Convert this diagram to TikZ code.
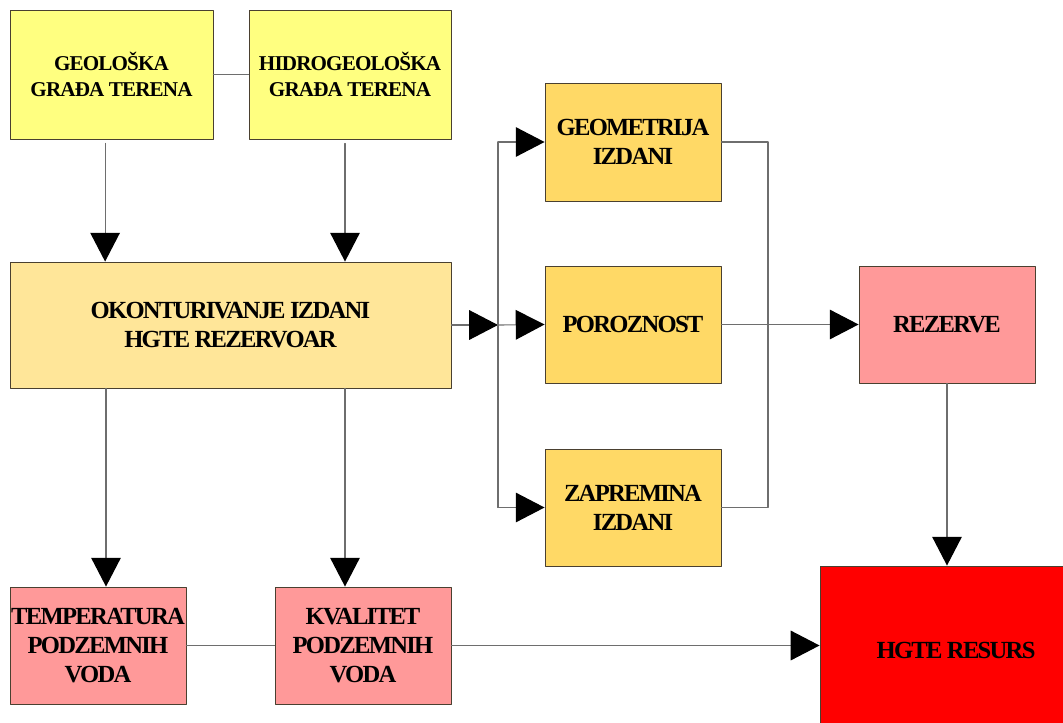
\documentclass[tikz,border=0pt]{standalone}
\usepackage{fontspec}
\setmainfont{Liberation Serif}[LetterSpace=-4]
\usetikzlibrary{arrows.meta}
\definecolor{geoyellow}{HTML}{FFFF80}
\definecolor{okontfill}{HTML}{FFE699}
\definecolor{izdfill}{HTML}{FFD966}
\definecolor{vodafill}{HTML}{FF9999}
\definecolor{linegray}{HTML}{6E6E6E}
\definecolor{boxedge}{HTML}{4A4030}
\begin{document}
\begin{tikzpicture}[x=0.025cm,y=-0.025cm,line cap=round,line join=round,
  box/.style={draw=boxedge,line width=0.6pt,inner sep=0pt,align=center,
    font=\fontsize{17.5}{20.5}\selectfont\bfseries\addfontfeature{LetterSpace=-7}},
  topbox/.style={box,fill=geoyellow,minimum height=3.225cm,
    font=\fontsize{15}{19}\selectfont\bfseries},
  link/.style={draw=linegray,line width=0.8pt},
  arr/.style={link,-{Triangle[length=0.72cm,width=0.74cm,color=black,fill=black]}}]
  \useasboundingbox (0,0) rectangle (1063,722);
  % top row
  \node[topbox,minimum width=5.075cm] (geo) at (111.5,74.5) {GEOLOŠKA\\GRAĐA TERENA};
  \node[topbox,minimum width=5.05cm] (hidro) at (350,74.5) {HIDROGEOLOŠKA\\GRAĐA TERENA};
  \node[box,fill=okontfill,minimum width=11.025cm,minimum height=3.15cm] (okont) at (230.5,325) {OKONTURIVANJE IZDANI\\HGTE REZERVOAR};
  % izdan
  \node[box,fill=izdfill,minimum width=4.4cm,minimum height=2.95cm] (geom) at (633,142) {GEOMETRIJA\\IZDANI};
  \node[box,fill=izdfill,minimum width=4.4cm,minimum height=2.925cm] (poro) at (633,324.5) {POROZNOST};
  \node[box,fill=izdfill,minimum width=4.4cm,minimum height=2.925cm] (zapr) at (633,507.5) {ZAPREMINA\\IZDANI};
  \node[box,fill=vodafill,minimum width=4.4cm,minimum height=2.925cm] (rez) at (947,324.5) {REZERVE};
  % bottom row
  \node[box,fill=vodafill,minimum width=4.4cm,minimum height=2.925cm] (temp) at (98,645.5) {TEMPERATURA\\PODZEMNIH\\VODA};
  \node[box,fill=vodafill,minimum width=4.4cm,minimum height=2.925cm] (kval) at (363,645.5) {KVALITET\\PODZEMNIH\\VODA};
  \node[box,fill=red,minimum width=6.8cm,minimum height=4.2cm] (resurs) at (956,650) {HGTE RESURS};
  \coordinate (lbr) at (498,325);
  \coordinate (rbr) at (768,325);
  % connectors
  \draw[link] (geo.east) -- (hidro.west);
  \draw[arr] ([xshift=-0.16cm,yshift=-0.1cm]geo.south) -- ([xshift=-0.16cm]geo.south |- okont.north);
  \draw[arr] ([xshift=-0.125cm,yshift=-0.1cm]hidro.south) -- ([xshift=-0.125cm]hidro.south |- okont.north);
  \draw[arr] ([xshift=0.2cm]temp.north |- okont.south) -- ([xshift=0.2cm]temp.north);
  \draw[arr] ([xshift=-0.45cm]kval.north |- okont.south) -- ([xshift=-0.45cm]kval.north);
  \draw[arr] (okont.east) -- (lbr);
  \draw[link] (lbr |- geom.west) -- (lbr |- zapr.west);
  \draw[arr] (lbr |- geom.west) -- (geom.west);
  \draw[arr] (lbr) -- (poro.west);
  \draw[arr] (lbr |- zapr.west) -- (zapr.west);
  \draw[link] (geom.east) -| (rbr |- zapr.east) -- (zapr.east);
  \draw[arr] (poro.east) -- (rez.west);
  \draw[arr] (rez.south) -- (rez.south |- resurs.north);
  \draw[link] (temp.east) -- (kval.west);
  \draw[arr] (kval.east) -- (kval.east -| resurs.west);
\end{tikzpicture}
\end{document}
